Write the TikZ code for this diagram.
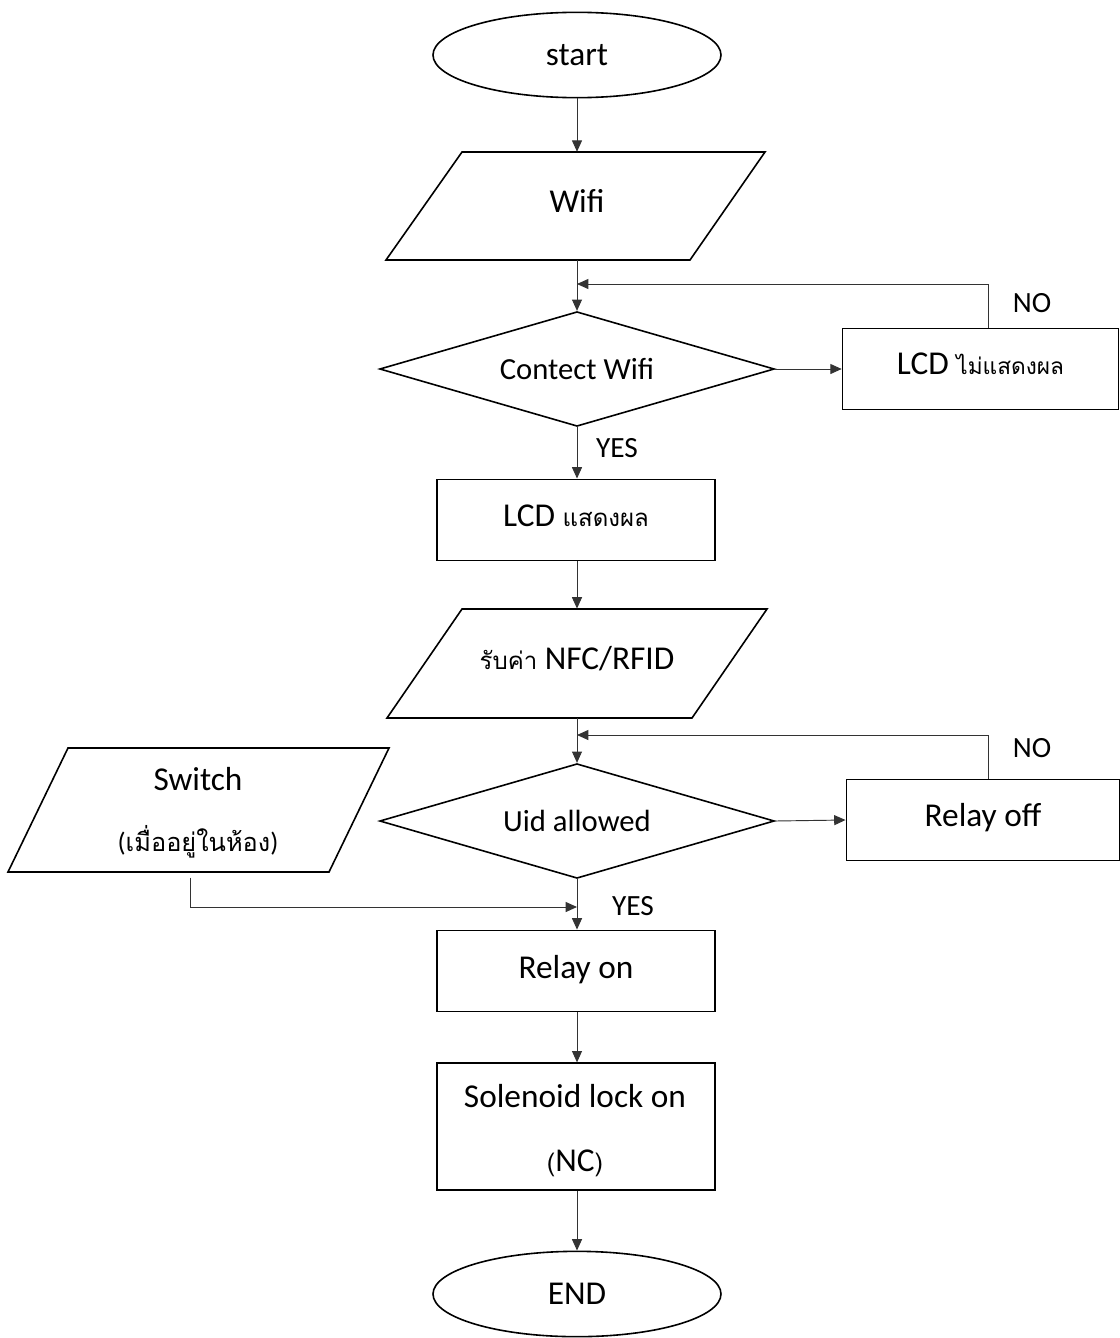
\documentclass[tikz,border=0pt]{standalone}
\usepackage{fontspec}
\setmainfont{Carlito}
\newfontfamily\thai[Script=Thai]{Loma}
\usetikzlibrary{shapes.geometric,arrows.meta}
\begin{document}
\begin{tikzpicture}[x=0.75pt,y=-0.75pt,
  shp/.style={draw, line width=1.2pt},
  conn/.style={line width=0.7pt, draw=black!80, -{Triangle[length=8.5pt,width=7.5pt]}},
  big/.style={font=\fontsize{25}{30}\selectfont},
  mid/.style={font=\fontsize{23}{28}\selectfont},
  lab/.style={font=\fontsize{22}{26}\selectfont, inner sep=0pt},
  term/.style={shp, ellipse, big, minimum width=216pt, minimum height=64pt, inner sep=0pt},
  boxx/.style={shp, rectangle, big, minimum width=208.5pt, minimum height=61pt, inner sep=0pt},
  dec/.style={shp, diamond, mid, aspect=3.4, minimum width=296pt, minimum height=86pt, inner sep=0pt},
  io/.style={rectangle, big, inner sep=0pt}
]
\useasboundingbox (0,0) rectangle (1120,1338);

% start
\node[term] (start) at (577,55) {start};

% Wifi parallelogram
\draw[shp] (462,152) -- (765,152) -- (690,260) -- (386,260) -- cycle;
\node[io, minimum width=284pt, minimum height=81pt] (wifi) at (577,206) {\raisebox{7pt}{Wifi}};

% Contect Wifi
\node[dec] (cwifi) at (577,369) {Contect Wifi};
\node[boxx, minimum width=207pt] (lcdno) at (980.5,369) {\raisebox{8pt}{LCD {\thai\fontsize{17}{22}\selectfont ไม่แสดงผล}}};

% LCD show
\node[boxx] (lcd) at (576,520) {\raisebox{6pt}{LCD {\thai\fontsize{18}{22}\selectfont แสดงผล}}};

% NFC parallelogram
\draw[shp] (462,609) -- (767,609) -- (692,718) -- (387,718) -- cycle;
\node[io, minimum width=285pt, minimum height=82pt] (nfc) at (577,663.5) {\raisebox{8pt}{{\thai\fontsize{18}{22}\selectfont รับค่า} NFC/RFID}};

% Uid allowed
\node[dec] (uid) at (577,821) {Uid allowed};
\node[boxx, minimum width=205pt] (roff) at (983,820) {\raisebox{8pt}{Relay off}};

% Switch parallelogram
\draw[shp] (68,748) -- (389,748) -- (329,872) -- (8,872) -- cycle;
\node[io, minimum width=286pt, minimum height=93pt] (switch) at (198.5,810) {};
\node[big] (swt) at (198,779) {Switch};
\node[font=\fontsize{19}{24}\selectfont] (swth) at (198,842) {{\fontsize{20}{24}\selectfont(}{\thai เมื่ออยู่ในห้อง}{\fontsize{20}{24}\selectfont)}};

% Relay on
\node[boxx] (ron) at (576,971) {\raisebox{6pt}{Relay on}};

% Solenoid
\node[boxx, minimum height=95pt] (sol) at (576,1126.5) {};
\node[big] (solt) at (575,1096) {Solenoid lock on};
\node[big] (solnc) at (575,1163) {{\thai\fontsize{19}{24}\selectfont(}NC{\thai\fontsize{19}{24}\selectfont)}};

% END
\node[term] (end) at (577,1294) {END};

% labels
\node[lab] (no1) at (1032,303) {NO};
\node[lab] (yes1) at (617,448) {YES};
\node[lab] (no2) at (1032,748) {NO};
\node[lab] (yes2) at (633,906) {YES};

% join coordinates
\coordinate (loop1) at (577,284);
\coordinate (loop2) at (577,735);
\coordinate (sjoin) at (577,907);

% connectors
\draw[conn] (start) -- (start |- wifi.north);
\draw[conn] (wifi.south) -- (cwifi.north);
\draw[conn] (cwifi.east) -- (lcdno.west);
\draw[conn] ([xshift=5.6pt]lcdno.north) |- (loop1);
\draw[conn] (cwifi.south) -- (lcd.north -| cwifi.south);
\draw[conn] (lcd.south -| cwifi.south) -- (nfc.north);
\draw[conn] (nfc.south) -- (uid.north);
\draw[conn] (uid.east) -- (roff.west);
\draw[conn] ([xshift=3.75pt]roff.north) |- (loop2);
\draw[conn] (uid.south) -- (ron.north -| uid.south);
\draw[conn] ([xshift=-6pt,yshift=-4pt]switch.south) |- (sjoin);
\draw[conn] (ron.south -| uid.south) -- (sol.north -| uid.south);
\draw[conn] (sol.south -| uid.south) -- (end.north);
\end{tikzpicture}
\end{document}
